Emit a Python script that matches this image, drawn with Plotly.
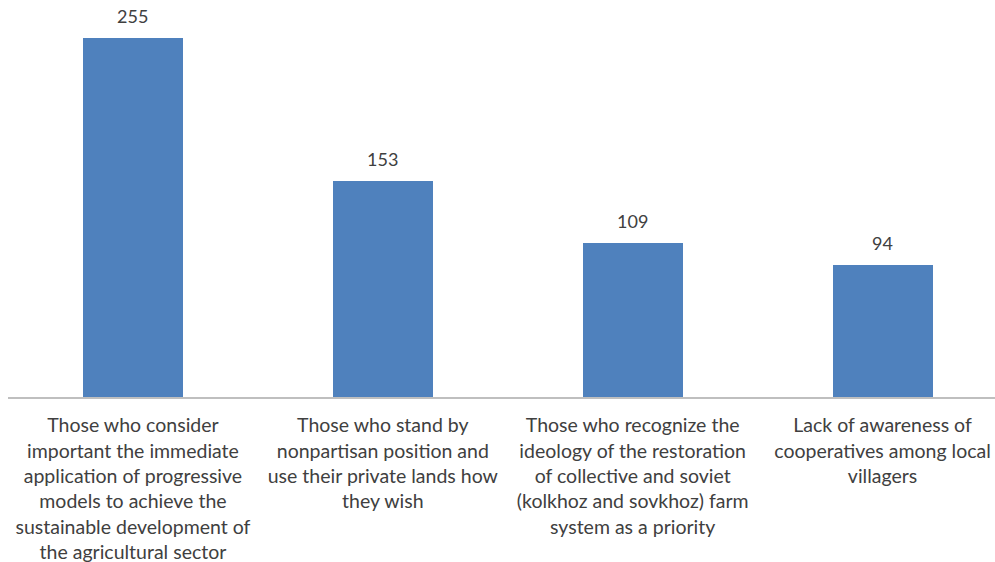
import plotly.graph_objects as go

categories = [
    "Those who consider<br>important the immediate<br>application of progressive<br>models to achieve the<br>sustainable development of<br>the agricultural sector",
    "Those who stand by<br>nonpartisan position and<br>use their private lands how<br>they wish",
    "Those who recognize the<br>ideology of the restoration<br>of collective and soviet<br>(kolkhoz and sovkhoz) farm<br>system as a priority",
    "Lack of awareness of<br>cooperatives among local<br>villagers",
]
values = [255, 153, 109, 94]

xs = list(range(len(values)))

fig = go.Figure()
fig.add_trace(go.Bar(
    x=xs,
    y=values,
    width=0.4,
    marker=dict(color="#4F81BD", line=dict(width=0)),
))

for x, v in zip(xs, values):
    fig.add_annotation(
        x=x, y=v, text=str(v), showarrow=False,
        yanchor="bottom", yshift=9,
        font=dict(family="Lato", size=18, color="#404040"),
    )

fig.update_layout(
    width=995, height=562,
    margin=dict(l=8, r=0, t=0, b=165),
    paper_bgcolor="white", plot_bgcolor="white",
    showlegend=False,
    bargap=0,
    xaxis=dict(
        range=[-0.5, 3.45],
        tickmode="array",
        tickvals=xs,
        ticktext=categories,
        tickangle=0,
        showline=True, linecolor="#BFBFBF", linewidth=1.5,
        ticks="", showgrid=False, zeroline=False,
        ticklabelstandoff=10,
        tickfont=dict(family="Lato", size=19.5, color="#404040"),
    ),
    yaxis=dict(
        range=[0, 281.8],
        visible=False, showgrid=False, zeroline=False,
    ),
)

fig.write_html("out.html")
